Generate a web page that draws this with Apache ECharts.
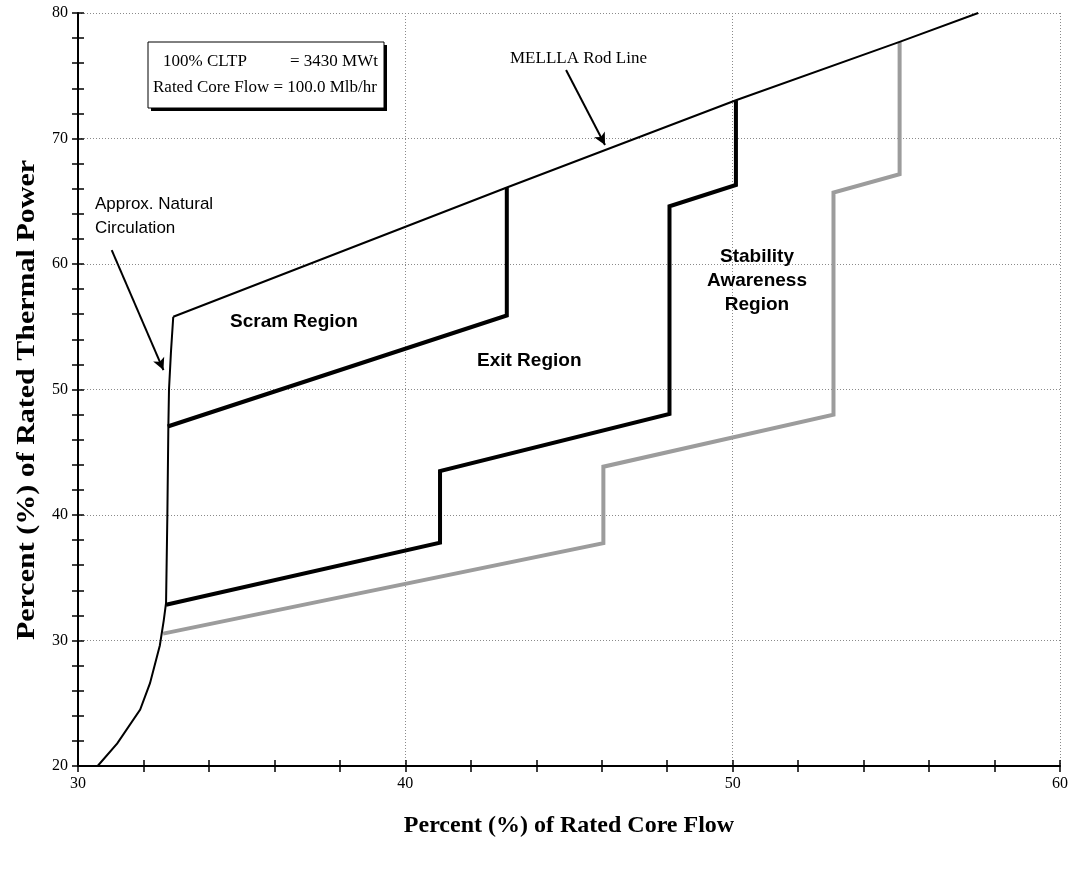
<!DOCTYPE html>
<html><head><meta charset="utf-8">
<script src="https://cdn.jsdelivr.net/npm/echarts@6/dist/echarts.min.js"></script>
<style>html,body{margin:0;padding:0;background:#fff}#c{width:1076px;height:869px}</style>
</head><body><div id="c"></div>
<script>
// ---- data ----
const xTicks = [30, 40, 50, 60];
const yTicks = [20, 30, 40, 50, 60, 70, 80];
const natCircX = [30.6, 31.2, 31.9, 32.2, 32.5, 32.62, 32.69, 32.73, 32.76, 32.78, 32.84, 32.91];
const natCircY = [20, 21.8, 24.5, 26.6, 29.6, 31.6, 33, 40, 47, 50, 53, 55.8];
const rodX = [32.91, 43.1, 50.1, 55.1, 57.5];
const rodY = [55.8, 66.1, 73.05, 77.7, 80];
const scramX = [32.74, 43.1, 43.1];
const scramY = [47.05, 55.9, 66.1];
const exitX = [32.69, 41.06, 41.06, 48.07, 48.07, 50.1, 50.1];
const exitY = [32.85, 37.8, 43.5, 48.05, 64.6, 66.3, 73.05];
const stabX = [32.6, 46.05, 46.05, 53.08, 53.08, 55.1, 55.1];
const stabY = [30.55, 37.75, 43.85, 48.0, 65.7, 67.15, 77.7];
const arrowNat = [[31.03, 61.1], [32.61, 51.55]];
const arrowRod = [[44.91, 75.46], [46.10, 69.48]];

const zip = (xs, ys) => xs.map((x, i) => [x, ys[i]]);
const chart = echarts.init(document.getElementById('c'), null, {renderer: 'canvas'});
const serif = '"Liberation Serif","Times New Roman",serif';
const sans = '"Liberation Sans",Arial,sans-serif';

const axisCommon = (isX) => ({
  type: 'value',
  min: isX ? 30 : 20, max: isX ? 60 : 80, interval: 10,
  axisLine: {show: true, onZero: false, lineStyle: {color: '#000', width: 2}},
  axisTick: {show: true, length: 6, lineStyle: {color: '#000', width: 1.5}},
  minorTick: {show: true, splitNumber: 5, length: 6, lineStyle: {color: '#000', width: 1.5}},
  splitLine: {show: true, lineStyle: {color: '#8a8a8a', width: 1, type: [1, 2]}},
  axisLabel: {color: '#000', fontFamily: serif, fontSize: 16, margin: 10}
});
const innerAxis = (isX, pos) => ({
  type: 'value', position: pos, offset: 0,
  min: isX ? 30 : 20, max: isX ? 60 : 80, interval: 10,
  axisLine: {show: false},
  axisTick: {show: true, inside: true, length: 6, lineStyle: {color: '#000', width: 1.5}},
  minorTick: {show: true, splitNumber: 5, length: 6, lineStyle: {color: '#000', width: 1.5}},
  splitLine: {show: false}, axisLabel: {show: false}
});

const lineS = (name, data, color, width, extra) => Object.assign({
  name, type: 'line', data, symbol: 'none', smooth: false,
  lineStyle: {color, width, join: 'miter'}, z: 3, silent: true
}, extra || {});

chart.setOption({
  animation: false,
  grid: {left: 78, right: 16, top: 13, bottom: 103, containLabel: false},
  xAxis: [
    Object.assign(axisCommon(true), {position: 'bottom',
      name: 'Percent (%) of Rated Core Flow', nameLocation: 'middle', nameGap: 48,
      nameTextStyle: {color: '#000', fontFamily: serif, fontSize: 24, fontWeight: 'bold'}}),
    innerAxis(true, 'bottom')
  ],
  yAxis: [
    axisCommon(false),
    innerAxis(false, 'left')
  ],
  series: [
    lineS('Stability Awareness boundary', zip(stabX, stabY), '#9c9c9c', 4),
    lineS('Natural Circulation', zip(natCircX, natCircY), '#000', 2),
    lineS('MELLLA Rod Line', zip(rodX, rodY), '#000', 2, {
      markLine: {
        silent: true, symbol: ['none', 'arrow'], symbolSize: [9, 12],
        label: {show: false}, lineStyle: {color: '#000', width: 2, type: 'solid'},
        data: [
          [{coord: arrowNat[0]}, {coord: arrowNat[1]}],
          [{coord: arrowRod[0]}, {coord: arrowRod[1]}]
        ]
      }
    }),
    lineS('Scram boundary', zip(scramX, scramY), '#000', 4),
    lineS('Exit boundary', zip(exitX, exitY), '#000', 4)
  ],
  graphic: [
    {type: 'text', x: 28, y: 400, rotation: Math.PI / 2, scaleX: 1.2, scaleY: 1,
      style: {text: 'Percent (%) of Rated Thermal Power', font: 'bold 25px ' + serif, fill: '#000',
        textAlign: 'center', textVerticalAlign: 'middle'}, z: 12},
    {type: 'rect', shape: {x: 151, y: 45, width: 236, height: 66}, style: {fill: '#000'}, z: 10},
    {type: 'rect', shape: {x: 148, y: 42, width: 236, height: 66}, style: {fill: '#fff', stroke: '#000', lineWidth: 1}, z: 11},
    {type: 'text', x: 163, y: 62, style: {text: '100% CLTP', font: '17px ' + serif, fill: '#000', textVerticalAlign: 'middle'}, z: 12},
    {type: 'text', x: 290, y: 62, style: {text: '= 3430 MWt', font: '17px ' + serif, fill: '#000', textVerticalAlign: 'middle'}, z: 12},
    {type: 'text', x: 153, y: 88, style: {text: 'Rated Core Flow = 100.0 Mlb/hr', font: '17px ' + serif, fill: '#000', textVerticalAlign: 'middle'}, z: 12},
    {type: 'text', x: 510, y: 59, style: {text: 'MELLLA Rod Line', font: '17px ' + serif, fill: '#000', textVerticalAlign: 'middle'}, z: 12},
    {type: 'text', x: 95, y: 204, style: {text: 'Approx. Natural', font: '17px ' + sans, fill: '#000', textVerticalAlign: 'middle'}, z: 12},
    {type: 'text', x: 95, y: 228, style: {text: 'Circulation', font: '17px ' + sans, fill: '#000', textVerticalAlign: 'middle'}, z: 12},
    {type: 'text', x: 230, y: 322, style: {text: 'Scram Region', font: 'bold 19px ' + sans, fill: '#000', textVerticalAlign: 'middle'}, z: 12},
    {type: 'text', x: 477, y: 361, style: {text: 'Exit Region', font: 'bold 19px ' + sans, fill: '#000', textVerticalAlign: 'middle'}, z: 12},
    {type: 'text', x: 757, y: 257, style: {text: 'Stability', font: 'bold 19px ' + sans, fill: '#000', textAlign: 'center', textVerticalAlign: 'middle'}, z: 12},
    {type: 'text', x: 757, y: 281, style: {text: 'Awareness', font: 'bold 19px ' + sans, fill: '#000', textAlign: 'center', textVerticalAlign: 'middle'}, z: 12},
    {type: 'text', x: 757, y: 305, style: {text: 'Region', font: 'bold 19px ' + sans, fill: '#000', textAlign: 'center', textVerticalAlign: 'middle'}, z: 12}
  ]
});
</script></body></html>
